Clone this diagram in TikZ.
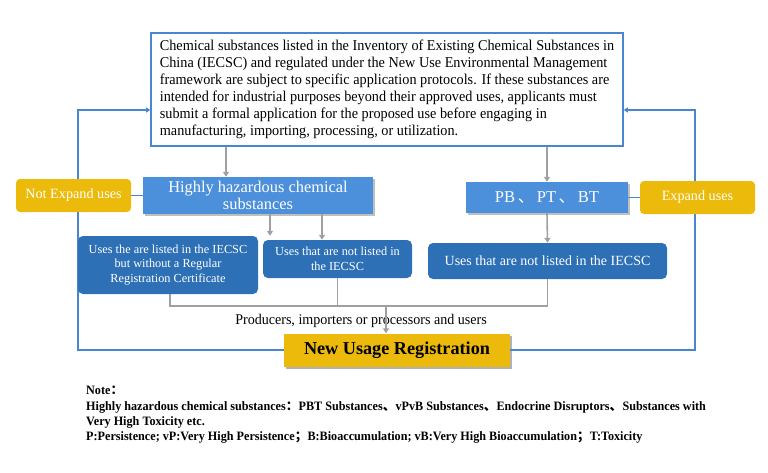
\documentclass[tikz,border=0pt]{standalone}
\usepackage{fontspec}
\setmainfont{Liberation Serif}
\newfontfamily\cond[FakeStretch=0.95]{Liberation Serif}
\newfontfamily\cjk{Noto Sans CJK SC}
\usetikzlibrary{arrows.meta,shadows,calc}
\definecolor{lineblue}{RGB}{74,134,208}
\definecolor{boxblue}{RGB}{76,143,219}
\definecolor{darkblue}{RGB}{46,112,182}
\definecolor{gold}{RGB}{236,186,10}
\definecolor{garr}{RGB}{160,160,160}
\tikzset{
  garrow/.style={draw=garr,line width=1.6pt,-{Triangle[width=6pt,length=5pt]}},
  gline/.style={draw=garr,line width=1.6pt},
  bline/.style={draw=lineblue,line width=1.6pt},
  barrow/.style={draw=lineblue,line width=1.6pt,-{Triangle[width=5pt,length=4pt]}},
  lightbox/.style={fill=boxblue,text=white,inner sep=0pt,align=center,
     drop shadow={shadow xshift=1.5pt,shadow yshift=-2pt,fill=black,opacity=0.25}},
  darkbox/.style={fill=darkblue,text=white,rounded corners=5pt,inner sep=0pt,align=center},
  goldbox/.style={fill=gold,text=white,rounded corners=4pt,inner sep=0pt,align=center,
     minimum width=115pt,minimum height=33pt,font=\fontsize{14.2pt}{16pt}\selectfont},
}
\begin{document}
\begin{tikzpicture}[x=1pt,y=-1pt]
\useasboundingbox (0,0) rectangle (768,472);
% top box
\node[draw=lineblue,line width=1.6pt,fill=white,minimum width=472pt,minimum height=113pt,
      inner sep=0pt,align=left,font=\cond\fontsize{15pt}{17.1pt}\selectfont] (top) at (387,89.5)
 {Chemical substances listed in the Inventory of Existing Chemical Substances in\\
  China (IECSC) and regulated under the New Use Environmental Management\\
  framework are subject to specific application protocols. If these substances are\\
  intended for industrial purposes beyond their approved uses, applicants must\\
  submit a formal application for the proposed use before engaging in\\
  manufacturing, importing, processing, or utilization.};
% coordinates
\coordinate (tl) at (78,110);
\coordinate (tr) at (695,110);
% NUR
\node[fill=gold,minimum width=226pt,minimum height=33pt,inner sep=0pt,
      font=\fontsize{18.2pt}{20pt}\selectfont\bfseries,
      drop shadow={shadow xshift=1.5pt,shadow yshift=-2.5pt,fill=black,opacity=0.3}] (nur) at (397,350)
 {New Usage Registration};
% feedback lines
\draw[barrow] (nur.west) -| (tl) -- (top.west |- tl);
\draw[barrow] (nur.east) -| (tr) -- (top.east |- tr);
% middle row
\node[lightbox,minimum width=230pt,minimum height=37pt,font=\fontsize{16.4pt}{17.5pt}\selectfont] (hh) at (258,195.5)
 {Highly hazardous chemical\\substances};
\node[lightbox,minimum width=162pt,minimum height=31pt,font=\fontsize{16.6pt}{17.5pt}\selectfont] (pb) at (547,197.5)
 {PB\hspace{2.5pt}{\cjk 、}\hspace{2.5pt}PT\hspace{2.5pt}{\cjk 、}\hspace{2.5pt}BT};
\node[goldbox] (ne) at (73.5,195.5) {Not Expand uses};
\node[goldbox] (ex) at (697.5,197.5) {Expand uses};
\draw[bline] (ne.east) -- (hh.west);
\draw[bline] (pb.east) -- (ex.west);
% lower row
\node[darkbox,minimum width=180pt,minimum height=58pt,font=\fontsize{12.3pt}{14.5pt}\selectfont] (l1) at (168,265)
 {Uses the are listed in the IECSC\\but without a Regular\\Registration Certificate};
\node[darkbox,minimum width=149pt,minimum height=38pt,font=\fontsize{12.3pt}{15pt}\selectfont] (m1) at (337.5,259)
 {Uses that are not listed in\\the IECSC};
\node[darkbox,minimum width=239pt,minimum height=36pt,font=\fontsize{14pt}{15pt}\selectfont] (r1) at (547.5,261)
 {Uses that are not listed in the IECSC};
% gray arrows
\draw[garrow] ([xshift=-32pt]hh.north |- top.south) -- ([xshift=-32pt]hh.north);
\draw[garrow] (pb.north |- top.south) -- (pb.north);
\draw[garrow] ([xshift=12pt]hh.south) -- ([xshift=12pt]hh.south |- l1.north);
\draw[garrow] ([xshift=-15.5pt]m1.north |- hh.south) -- ([xshift=-15.5pt]m1.north);
\draw[garrow] (pb.south) -- (r1.north);
% joining lines
\coordinate (jr) at (547.5,306);
\coordinate (jc) at (386,306);
\draw[gline] ([xshift=2pt]l1.south) |- (jr) -- (r1.south);
\draw[gline] (m1.south) -- (m1.south |- jc);
\node[font=\cond\fontsize{14.8pt}{16pt}\selectfont,inner sep=0pt] (prod) at (361,321) {Producers, importers or processors and users};
\draw[garrow] (jc) -- (jc |- nur.north);
% note
\node[anchor=north west,align=left,inner sep=0pt,font=\cond\fontsize{12.8pt}{15.3pt}\selectfont\bfseries] (note) at (86,386)
 {Note{\cjk ：}\\
  Highly hazardous chemical substances{\cjk ：}PBT Substances{\cjk 、}vPvB Substances{\cjk 、}Endocrine Disruptors{\cjk 、}Substances with\\
  Very High Toxicity etc.\\
  P:Persistence; vP:Very High Persistence{\cjk ；}B:Bioaccumulation; vB:Very High Bioaccumulation{\cjk ；}T:Toxicity};
\end{tikzpicture}
\end{document}
